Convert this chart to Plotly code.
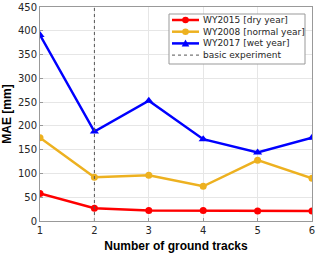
import plotly.graph_objects as go

tracks = [1, 2, 3, 4, 5, 6]
dry_2015 = [58, 27, 22, 22, 21, 21]
normal_2008 = [175, 92, 96, 73, 128, 90]
wet_2017 = [391, 188, 253, 172, 144, 175]
basic_x = [2, 2]
basic_y = [0, 450]
y_ticks = [0, 50, 100, 150, 200, 250, 300, 350, 400, 450]

series = [
    ("WY2015 [dry year]", dry_2015, "#FF0000", "circle"),
    ("WY2008 [normal year]", normal_2008, "#EDB120", "circle"),
    ("WY2017 [wet year]", wet_2017, "#0000FF", "triangle-up"),
]
basic_name = "basic experiment"
basic_color = "#555555"

W, H = 320, 253
ML, MR, MT, MB = 40, 8, 7, 32
PW, PH = W - ML - MR, H - MT - MB


def px2x(px):
    return (px - ML) / PW


def px2y(py):
    return (H - MB - py) / PH


fig = go.Figure()
for name, vals, color, sym in series:
    fig.add_trace(go.Scatter(x=tracks, y=vals, mode="lines+markers", name=name,
                             line=dict(color=color, width=2.5),
                             marker=dict(symbol=sym, size=7 if sym == "circle" else 8)))
fig.add_trace(go.Scatter(x=basic_x, y=basic_y, mode="lines", name=basic_name,
                         line=dict(color=basic_color, width=1, dash="dot")))

axis_common = dict(showline=True, linecolor="#999999", linewidth=1, mirror=True,
                   showgrid=True, gridcolor="#E6E6E6", zeroline=False, automargin=False,
                   ticks="inside", ticklen=3, tickcolor="#999999",
                   tickfont=dict(family="DejaVu Sans", size=10, color="#262626"))
title_font = dict(family="Liberation Sans, Arial", size=12, color="#000000")

fig.update_xaxes(range=[1, 6], tickvals=tracks, **axis_common,
                 title=dict(text="<b>Number of ground tracks</b>", font=title_font))
fig.update_yaxes(range=[0, 450], tickvals=y_ticks, **axis_common,
                 title=dict(text="<b>MAE [mm]</b>", font=title_font))

# custom compact legend (MATLAB style)
shapes = []
annotations = []
box_l, box_r, box_t, box_b = 169, 305, 14, 64
shapes.append(dict(type="rect", xref="paper", yref="paper",
                   x0=px2x(box_l), x1=px2x(box_r), y0=px2y(box_b), y1=px2y(box_t),
                   line=dict(color="#999999", width=1), fillcolor="white", layer="above"))
row0, step = 20, 11.7
line_l, line_r, mark_c, text_l = 172, 199, 185.5, 201
entries = [(n, c, s, "solid", 2.5) for n, _, c, s in series] + [(basic_name, basic_color, None, "dot", 1)]
for i, (name, color, sym, dash, lw) in enumerate(entries):
    yy = row0 + i * step
    shapes.append(dict(type="line", xref="paper", yref="paper",
                       x0=px2x(line_l), x1=px2x(line_r), y0=px2y(yy), y1=px2y(yy),
                       line=dict(color=color, width=lw, dash=dash), layer="above"))
    if sym == "circle":
        r = 3.3
        shapes.append(dict(type="circle", xref="paper", yref="paper",
                           x0=px2x(mark_c - r), x1=px2x(mark_c + r),
                           y0=px2y(yy + r), y1=px2y(yy - r),
                           line=dict(color=color, width=0), fillcolor=color, layer="above"))
    elif sym == "triangle-up":
        r = 3.8
        path = "M {} {} L {} {} L {} {} Z".format(
            px2x(mark_c - r), px2y(yy + r * 0.8),
            px2x(mark_c + r), px2y(yy + r * 0.8),
            px2x(mark_c), px2y(yy - r))
        shapes.append(dict(type="path", xref="paper", yref="paper", path=path,
                           line=dict(color=color, width=0), fillcolor=color, layer="above"))
    annotations.append(dict(text=name, xref="paper", yref="paper",
                            x=px2x(text_l), y=px2y(yy), xanchor="left", yanchor="middle",
                            showarrow=False, font=dict(family="DejaVu Sans", size=9, color="#262626")))

fig.update_layout(
    width=W, height=H,
    margin=dict(l=ML, r=MR, t=MT, b=MB),
    plot_bgcolor="white", paper_bgcolor="white",
    showlegend=False,
    shapes=shapes, annotations=annotations,
)

fig.write_html("out.html", config={"displayModeBar": False},
               post_script="document.body.style.margin='0';")
